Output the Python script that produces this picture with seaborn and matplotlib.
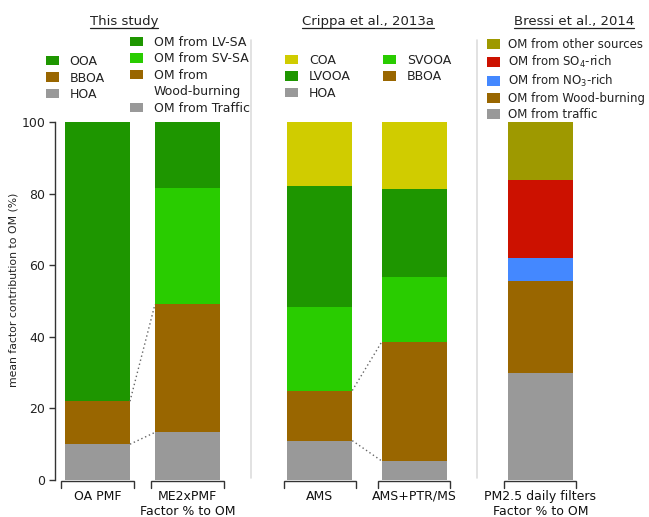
import matplotlib
matplotlib.use("Agg")
import matplotlib.pyplot as plt
import numpy as np
import pandas as pd
import seaborn as sns
from matplotlib.patches import Patch
from matplotlib.lines import Line2D

sns.set_theme(style="ticks")
plt.rcParams["font.family"] = ["DejaVu Sans"]

# ---- data -------------------------------------------------------------
bar_labels = ["OA PMF", "ME2xPMF\nFactor % to OM", "AMS", "AMS+PTR/MS",
              "PM2.5 daily filters\nFactor % to OM"]
bar_pos = [0.0, 1.0, 2.47, 3.52, 4.92]

# factors listed bottom -> top, mean contribution to OM (%)
oa_pmf_factors = ["HOA", "BBOA", "OOA"]
oa_pmf_values = [10.0, 12.0, 78.0]

me2_factors = ["OM from Traffic", "OM from Wood-burning", "OM from SV-SA", "OM from LV-SA"]
me2_values = [13.3, 35.8, 32.4, 18.5]

ams_factors = ["HOA", "BBOA", "SVOOA", "LVOOA", "COA"]
ams_values = [11.0, 14.0, 23.4, 33.7, 17.9]
ams_ptr_values = [5.3, 33.3, 18.2, 24.5, 18.7]

bressi_factors = ["OM from traffic", "OM from Wood-burning", "OM from NO3-rich",
                  "OM from SO4-rich", "OM from other sources"]
bressi_values = [30.0, 25.7, 6.2, 21.9, 16.2]

DARK_GREEN = "#1e9600"
LIGHT_GREEN = "#29cc00"
BROWN = "#996600"
GREY = "#999999"
palette = {
    "OOA": DARK_GREEN, "BBOA": BROWN, "HOA": GREY,
    "OM from LV-SA": DARK_GREEN, "OM from SV-SA": LIGHT_GREEN,
    "OM from Wood-burning": BROWN, "OM from Traffic": GREY,
    "COA": "#d0cc00", "LVOOA": DARK_GREEN, "SVOOA": LIGHT_GREEN,
    "OM from other sources": "#9e9900", "OM from SO4-rich": "#cc1100",
    "OM from NO3-rich": "#4488ff", "OM from traffic": GREY,
}

stacks = [
    (oa_pmf_factors, oa_pmf_values),
    (me2_factors, me2_values),
    (ams_factors, ams_values),
    (ams_factors, ams_ptr_values),
    (bressi_factors, bressi_values),
]

rows = []
for b, (pos, (facs, vals)) in enumerate(zip(bar_pos, stacks)):
    tops = np.cumsum(vals)
    for f, v, t in zip(facs, vals, tops):
        rows.append({"bar": b, "pos": pos, "factor": f, "value": v, "top": t})
df = pd.DataFrame(rows)

BAR_W = 0.722

# ---- figure -----------------------------------------------------------
W, H = 649, 517
fig = plt.figure(figsize=(W / 100, H / 100), dpi=100)
ax = fig.add_axes([55 / W, 1 - 480 / H, 594 / W, 358 / H])

# stacked bars: draw cumulative heights from the top segment downwards
for _, r in df.sort_values(["bar", "top"], ascending=[True, False]).iterrows():
    sns.barplot(x=[r["pos"]], y=[r["top"]], native_scale=True, width=BAR_W,
                color=palette[r["factor"]], saturation=1, edgecolor="none",
                linewidth=0, ax=ax)

ax.set_xlim(-0.472, 6.128)
ax.set_ylim(0, 100)
ax.set_xlabel("")
ax.set_ylabel("mean factor contribution to OM (%)", fontsize=7.8, color="#222222")
ax.yaxis.set_label_coords(-0.062, 0.531)

for s in ["top", "right", "bottom"]:
    ax.spines[s].set_visible(False)
ax.spines["left"].set_bounds(0, 100)
ax.spines["left"].set_color("#333333")
ax.spines["left"].set_linewidth(1)
ax.set_yticks([0, 20, 40, 60, 80, 100])
ax.tick_params(axis="y", direction="out", length=4, width=1, color="#333333",
               labelsize=9, labelcolor="#222222", pad=3)
ax.set_xticks(bar_pos)
ax.set_xticklabels(bar_labels, fontsize=9, color="#111111", linespacing=1.25)
ax.tick_params(axis="x", length=0, pad=7)

# bracket under each bar
trans = ax.get_xaxis_transform()
ext = 0.04
drop = 0.021
for p in bar_pos:
    x0, x1 = p - BAR_W / 2 - ext, p + BAR_W / 2 + ext
    ax.plot([x0, x0, x1, x1], [-drop, -0.002, -0.002, -drop], transform=trans,
            color="#333333", lw=1, clip_on=False, solid_joinstyle="miter")

# dotted links between matching factors of paired bars
def link(b0, f0, b1, f1):
    y0 = df[(df.bar == b0) & (df.factor == f0)]["top"].iloc[0]
    y1 = df[(df.bar == b1) & (df.factor == f1)]["top"].iloc[0]
    ax.plot([bar_pos[b0] + BAR_W / 2, bar_pos[b1] - BAR_W / 2], [y0, y1],
            ls=(0, (1, 2)), color="#666666", lw=1)

link(0, "HOA", 1, "OM from Traffic")
link(0, "BBOA", 1, "OM from Wood-burning")
link(2, "HOA", 3, "HOA")
link(2, "BBOA", 3, "BBOA")

# vertical separators between study groups
for xs in [1.706, 4.222]:
    ax.plot([xs, xs], [0.006, 1.229], transform=trans, color="#dddddd",
            lw=1.2, clip_on=False)

# group titles, underlined
titles = [("This study", 124), ("Crippa et al., 2013a", 367.5), ("Bressi et al., 2014", 574)]
title_texts = []
for t, xc in titles:
    title_texts.append(fig.text(xc / W, 1 - 22 / H, t, ha="center", va="center",
                                fontsize=9.5, color="#222222"))
fig.canvas.draw()
renderer = fig.canvas.get_renderer()
for tt in title_texts:
    bb = tt.get_window_extent(renderer)
    yl = bb.y0 + 0.5
    fig.add_artist(Line2D([bb.x0 / W, bb.x1 / W], [yl / H, yl / H],
                          color="#222222", lw=0.9))

# legends
def patch(name):
    return Patch(facecolor=palette[name], edgecolor="none")

blank = Patch(facecolor="none", edgecolor="none")
leg_kw = dict(frameon=False, handlelength=1.05, handleheight=0.8,
              borderpad=0, borderaxespad=0, loc="upper left", labelcolor="#222222")

fig.legend([patch("OOA"), patch("BBOA"), patch("HOA")], ["OOA", "BBOA", "HOA"],
           bbox_to_anchor=(46 / W, 1 - 55 / H), labelspacing=0.28, fontsize=9,
           handletextpad=0.85, **leg_kw)

fig.legend([patch("OM from LV-SA"), patch("OM from SV-SA"), patch("OM from Wood-burning"),
            blank, patch("OM from Traffic")],
           ["OM from LV-SA", "OM from SV-SA", "OM from", "Wood-burning", "OM from Traffic"],
           bbox_to_anchor=(130 / W, 1 - 36 / H), labelspacing=0.28, fontsize=9,
           handletextpad=0.85, **leg_kw)

fig.legend([patch("COA"), patch("LVOOA"), patch("HOA"), patch("SVOOA"), patch("BBOA")],
           ["COA", "LVOOA", "HOA", "SVOOA", "BBOA"], ncol=2, columnspacing=2.6,
           bbox_to_anchor=(285 / W, 1 - 54 / H), labelspacing=0.28, fontsize=9,
           handletextpad=0.85, **leg_kw)

fig.legend([patch(f) for f in bressi_factors[::-1]],
           ["OM from other sources", "OM from SO$_4$-rich", "OM from NO$_3$-rich",
            "OM from Wood-burning", "OM from traffic"],
           bbox_to_anchor=(487 / W, 1 - 38 / H), labelspacing=0.25, fontsize=8.5,
           handlelength=1.1, handleheight=0.85, handletextpad=0.7,
           frameon=False, borderpad=0, borderaxespad=0, loc="upper left",
           labelcolor="#222222")

fig.savefig("out.png", dpi=100)
